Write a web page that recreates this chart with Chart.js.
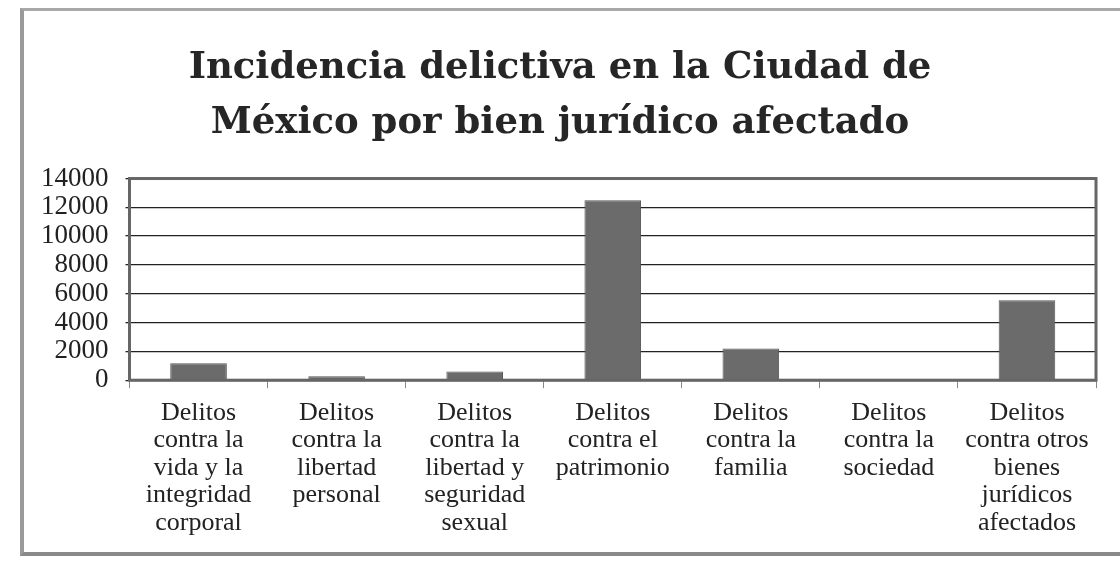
<!DOCTYPE html>
<html>
<head>
<meta charset="utf-8">
<script src="https://cdn.jsdelivr.net/npm/chart.js@4/dist/chart.umd.min.js"></script>
<style>
  html, body { margin: 0; padding: 0; background: #fff; }
  #wrap { position: absolute; left: 0; top: 0; width: 1120px; height: 564px; }
  #frame { position: absolute; left: 20px; top: 8px; width: 1110px; height: 548px;
           border-left: 4px solid #9a9a9a; border-top: 3px solid #a8a8a8; border-bottom: 4px solid #8a8a8a; box-sizing: border-box; }
  canvas { position: absolute; left: 0; top: 0; }
</style>
</head>
<body>
<div id="wrap">
  <div id="frame"></div>
  <canvas id="c" width="1120" height="564"></canvas>
</div>
<script>
const titleLines = ["Incidencia delictiva en la Ciudad de", "México por bien jurídico afectado"];
const categories = [
  ["Delitos", "contra la", "vida y la", "integridad", "corporal"],
  ["Delitos", "contra la", "libertad", "personal"],
  ["Delitos", "contra la", "libertad y", "seguridad", "sexual"],
  ["Delitos", "contra el", "patrimonio"],
  ["Delitos", "contra la", "familia"],
  ["Delitos", "contra la", "sociedad"],
  ["Delitos", "contra otros", "bienes", "jurídicos", "afectados"]
];
const values = [1170, 280, 600, 12500, 2200, 30, 5550];
const yTicks = [0, 2000, 4000, 6000, 8000, 10000, 12000, 14000];

const frameBorder = {
  id: 'frameBorder',
  afterDraw(chart) {
    const {ctx, chartArea: a} = chart;
    ctx.save();
    ctx.strokeStyle = '#666';
    ctx.lineWidth = 3;
    ctx.strokeRect(a.left, a.top, a.right - a.left, a.bottom - a.top);
    ctx.restore();
  }
};

new Chart(document.getElementById('c'), {
  type: 'bar',
  data: {
    labels: categories,
    datasets: [{
      data: values,
      backgroundColor: '#6b6b6b',
      borderColor: '#555',
      borderWidth: 1,
      barPercentage: 0.41,
      categoryPercentage: 1.0
    }]
  },
  options: {
    responsive: false,
    animation: false,
    devicePixelRatio: 1,
    layout: { padding: { left: 24, right: 24, top: 29, bottom: 16 } },
    plugins: {
      legend: { display: false },
      tooltip: { enabled: false },
      title: {
        display: true,
        text: titleLines,
        color: '#262626',
        font: { family: '"DejaVu Serif", serif', size: 37, weight: 'bold', lineHeight: 1.48 },
        padding: { top: 12, bottom: 28 }
      }
    },
    scales: {
      y: {
        min: 0, max: 14000,
        afterBuildTicks(axis) { axis.ticks = yTicks.map(v => ({ value: v })); },
        ticks: {
          color: '#222',
          font: { family: '"Liberation Serif", serif', size: 27 },
          padding: 17,
          autoSkip: false,
          callback: (v) => String(v)
        },
        grid: { color: '#222', lineWidth: 1.3, drawTicks: true, tickLength: 4 },
        border: { display: false }
      },
      x: {
        ticks: {
          color: '#222',
          font: { family: '"Liberation Serif", serif', size: 26, lineHeight: 1.06 },
          maxRotation: 0, minRotation: 0,
          autoSkip: false,
          padding: 11
        },
        grid: { display: true, drawOnChartArea: false, drawTicks: true, tickLength: 8, color: '#888', offset: true },
        border: { display: false }
      }
    }
  },
  plugins: [frameBorder]
});
</script>
</body>
</html>
